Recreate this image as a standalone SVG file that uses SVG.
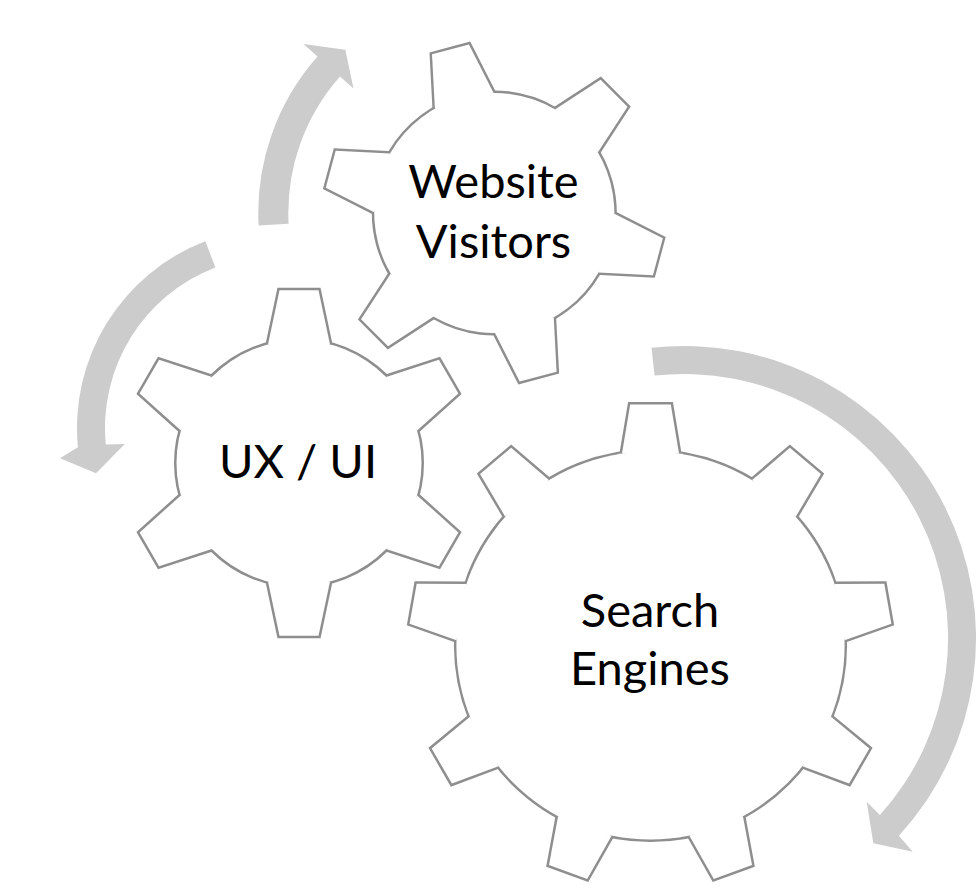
<svg xmlns="http://www.w3.org/2000/svg" xmlns:xlink="http://www.w3.org/1999/xlink" width="978" height="890" viewBox="0 0 978 890">
<style>
.arrow{fill:#cccccc;stroke:none}
.gs{fill:none;stroke:#8e8e8e;stroke-width:5;stroke-linejoin:miter}
.gf{fill:#ffffff;stroke:none}
.lbl{font-family:Lato,"Open Sans","Liberation Sans",sans-serif;font-size:47px;fill:#000000;text-anchor:middle}
</style>
<defs>
<polygon id="t6" points="-31,-118.5 -19.5,-172.8 19.5,-172.8 31,-118.5"/>
<g id="g6">
<circle r="122.5"/>
<use xlink:href="#t6"/>
<use xlink:href="#t6" transform="rotate(60)"/>
<use xlink:href="#t6" transform="rotate(120)"/>
<use xlink:href="#t6" transform="rotate(180)"/>
<use xlink:href="#t6" transform="rotate(240)"/>
<use xlink:href="#t6" transform="rotate(300)"/>
</g>
<polygon id="t9" points="-28.5,-192 -20.3,-241 20.3,-241 28.5,-192"/>
<g id="g9">
<circle r="194.1"/>
<use xlink:href="#t9"/>
<use xlink:href="#t9" transform="rotate(40)"/>
<use xlink:href="#t9" transform="rotate(80)"/>
<use xlink:href="#t9" transform="rotate(120)"/>
<use xlink:href="#t9" transform="rotate(160)"/>
<use xlink:href="#t9" transform="rotate(200)"/>
<use xlink:href="#t9" transform="rotate(240)"/>
<use xlink:href="#t9" transform="rotate(280)"/>
<use xlink:href="#t9" transform="rotate(320)"/>
</g>
</defs>
<rect width="978" height="890" fill="#ffffff"/>
<g id="connectors">
<path class="arrow" d="M 258.6 225.4 A 236 236 0 0 1 317.5 56.6 L 303.3 44 L 345.3 49.8 L 353.5 88.4 L 340 76.5 A 206 206 0 0 0 288.6 223.8 Z"/>
<path class="arrow" d="M 205.3 241.3 A 200 200 0 0 0 77.9 447.2 L 60 458.3 L 96 473.3 L 124.8 444 L 105.8 444.5 A 172 172 0 0 1 215.4 267.4 Z"/>
<path class="arrow" d="M 651.5 347.8 A 292 292 0 0 1 898.9 835.7 L 912.7 851.7 L 873.3 843.3 L 866.7 801.7 L 879.9 815 A 264 264 0 0 0 654.6 375.6 Z"/>
</g>
<g id="gear-website">
<g transform="translate(494.3,213) rotate(-15) scale(0.98)">
<use class="gs" xlink:href="#g6"/>
<use class="gf" xlink:href="#g6"/>
</g>
<text class="lbl" x="493.5" y="198.3">Website</text>
<text class="lbl" x="493.5" y="258.3">Visitors</text>
</g>
<g id="gear-uxui">
<g transform="translate(299,463)">
<use class="gs" xlink:href="#g6"/>
<use class="gf" xlink:href="#g6"/>
</g>
<text class="lbl" x="298" y="478">UX / UI</text>
</g>
<g id="gear-search">
<g transform="translate(650.5,645.5)">
<use class="gs" xlink:href="#g9"/>
<use class="gf" xlink:href="#g9"/>
</g>
<text class="lbl" x="650" y="626.7">Search</text>
<text class="lbl" x="650" y="685">Engines</text>
</g>
</svg>
